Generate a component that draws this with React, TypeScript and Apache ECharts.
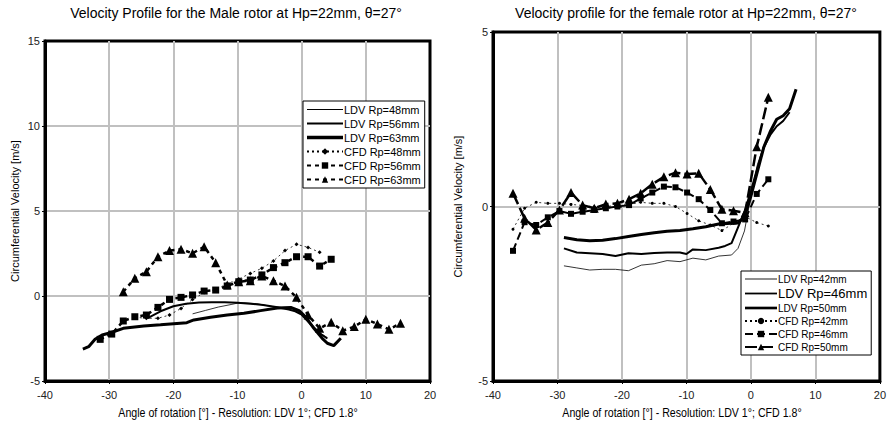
import React, { useEffect, useRef } from "react";
import * as echarts from "echarts";

// ---------- Male rotor (left chart) ----------
const maleLdv48X = [-17, -15, -13, -11, -10, -9, -7, -5, -3, -1, 0, 1, 2, 3, 4];
const maleLdv48Y = [-1.05, -0.85, -0.65, -0.5, -0.42, -0.4, -0.45, -0.6, -0.7, -0.85, -1.05, -1.45, -1.85, -2.2, -2.45];

const maleLdv56X = [-24, -22, -20, -18, -16, -14, -12, -10, -8, -6, -4, -2, -1, 0, 1, 2, 3, 4];
const maleLdv56Y = [-1.3, -0.9, -0.6, -0.45, -0.38, -0.37, -0.37, -0.4, -0.45, -0.53, -0.65, -0.8, -0.9, -1.1, -1.5, -1.9, -2.25, -2.5];

const maleLdv63X = [-34.1, -33.2, -32.2, -31.1, -29.8, -27.8, -24.6, -22.0, -17.9, -16.8, -14.2, -11.6, -9.0, -6.4, -3.8, -1.7, -0.4, 0.6, 1.9, 3.2, 4.0, 5.0, 6.1];
const maleLdv63Y = [-3.12, -2.98, -2.55, -2.29, -2.16, -1.9, -1.76, -1.69, -1.57, -1.41, -1.25, -1.12, -1.02, -0.86, -0.71, -0.67, -0.86, -1.22, -1.9, -2.49, -2.78, -2.92, -2.49];

const maleCfd48X = [-26.0, -24.2, -22.4, -20.6, -18.8, -17.0, -15.2, -13.4, -11.6, -9.8, -8.0, -6.2, -4.4, -2.6, -0.8, 1.0, 2.8];
const maleCfd48Y = [-1.25, -1.31, -1.31, -1.12, -0.73, -0.2, 0.2, 0.39, 0.71, 1.0, 1.33, 1.63, 2.06, 2.67, 3.04, 2.86, 2.57];

const maleCfd56X = [-31.4, -29.6, -27.8, -26.0, -24.2, -22.4, -20.6, -18.8, -17.0, -15.2, -13.4, -11.6, -9.8, -8.0, -6.2, -4.4, -2.6, -0.8, 1.0, 2.8, 4.6];
const maleCfd56Y = [-2.55, -2.24, -1.47, -1.22, -1.12, -0.67, -0.2, -0.08, 0.06, 0.29, 0.35, 0.59, 0.84, 0.94, 1.24, 1.67, 1.96, 2.31, 2.31, 1.76, 2.16];

const maleCfd63X = [-27.8, -26.0, -24.2, -22.4, -20.6, -18.8, -17.0, -15.2, -13.4, -11.6, -9.8, -8.0, -6.2, -4.4, -2.6, -0.8, 1.0, 2.8, 4.6, 6.4, 8.2, 10.0, 11.8, 13.6, 15.4];
const maleCfd63Y = [0.25, 1.04, 1.43, 2.31, 2.67, 2.75, 2.51, 2.9, 1.96, 0.65, 0.84, 0.9, 1.18, 0.9, 0.59, -0.08, -1.12, -1.9, -1.55, -2.04, -1.8, -1.37, -1.65, -1.96, -1.61];

// ---------- Female rotor (right chart) ----------
const femLdv42X = [-29, -27, -25, -23, -21, -19, -17, -15, -13, -11, -9, -7, -5, -3, -2, -1, 0, 1, 2, 3, 4, 5];
const femLdv42Y = [-1.7, -1.76, -1.82, -1.8, -1.8, -1.84, -1.68, -1.64, -1.55, -1.58, -1.48, -1.53, -1.42, -1.39, -1.2, -0.7, 0.3, 1.2, 1.75, 2.1, 2.3, 2.46];

const femLdv46X = [-29, -27, -25, -23, -21, -19, -17, -15, -13, -11, -10, -9, -7, -5, -4, -3, -2, -1, 0, 1, 2, 3, 4, 5, 6];
const femLdv46Y = [-1.2, -1.32, -1.34, -1.36, -1.42, -1.34, -1.36, -1.33, -1.32, -1.32, -1.36, -1.23, -1.25, -1.18, -1.13, -1.05, -0.6, -0.15, 0.45, 1.1, 1.7, 2.05, 2.3, 2.45, 2.7];

const femLdv50X = [-29, -27, -25, -23, -21, -19, -17, -15, -13, -11, -9, -7, -5, -3, -2, -1, 0, 1, 2, 3, 4, 5, 6, 7];
const femLdv50Y = [-0.89, -0.95, -0.98, -0.97, -0.92, -0.86, -0.8, -0.75, -0.71, -0.69, -0.64, -0.58, -0.5, -0.48, -0.47, -0.3, 0.3, 1.0, 1.7, 2.15, 2.5, 2.6, 2.8, 3.36];

const femCfdX = [-36.9, -35.1, -33.3, -31.5, -29.7, -27.9, -26.1, -24.3, -22.5, -20.7, -18.9, -17.1, -15.3, -13.5, -11.7, -9.9, -8.1, -6.3, -4.5, -2.7, -0.9, 0.9, 2.7];
const femCfd42Y = [-0.65, -0.05, 0.12, 0.09, 0.09, 0.06, 0.03, -0.01, 0.0, 0.03, 0.06, 0.12, 0.09, 0.09, 0.0, -0.2, -0.41, -0.53, -0.69, -0.48, -0.29, -0.46, -0.56];
const femCfd46Y = [-1.27, -0.45, -0.53, -0.31, -0.13, -0.21, -0.15, -0.1, -0.05, 0.0, 0.04, 0.23, 0.4, 0.57, 0.55, 0.4, 0.21, -0.1, -0.48, -0.43, -0.37, 0.36, 0.78];
const femCfd50Y = [0.38, -0.34, -0.67, -0.46, -0.1, 0.4, 0.04, -0.05, 0.07, 0.09, 0.21, 0.38, 0.64, 0.85, 0.97, 0.93, 0.95, 0.49, -0.08, -0.12, -0.18, 1.71, 3.13];

// ---------- Axes ----------
const xTicksMin = -40;
const xTicksMax = 20;
const xTickStep = 10;
const maleYMin = -5;
const maleYMax = 15;
const femYMin = -5;
const femYMax = 5;
const yTickStep = 5;

const maleTitle = "Velocity Profile for the Male rotor at Hp=22mm, \u03b8=27\u00b0";
const femTitle = "Velocity profile for the female rotor at Hp=22mm, \u03b8=27\u00b0";
const xName = "Angle of rotation [\u00b0] - Resolution: LDV 1\u00b0; CFD 1.8\u00b0";
const yName = "Circumferential Velocity [m/s]";

const maleNames = ["LDV Rp=48mm", "LDV Rp=56mm", "LDV Rp=63mm", "CFD Rp=48mm", "CFD Rp=56mm", "CFD Rp=63mm"];
const femNames = ["LDV Rp=42mm", "LDV Rp=46mm", "LDV Rp=50mm", "CFD Rp=42mm", "CFD Rp=46mm", "CFD Rp=50mm"];

const FONT = "'Liberation Sans', Arial, sans-serif";

function zip(xs: number[], ys: number[]) {
  return xs.map((x, i) => [x, ys[i]]);
}

function makeAxes(gridIndex: number, ymin: number, ymax: number) {
  const common = {
    gridIndex,
    type: "value" as const,
    axisLine: { show: true, onZero: false, lineStyle: { color: "#000", width: 3 } },
    axisTick: { show: true, length: 3, lineStyle: { color: "#000", width: 1 } },
    axisLabel: { color: "#222", fontSize: 11, fontFamily: FONT },
    splitLine: { show: true, showMinLine: false, showMaxLine: false, lineStyle: { color: "#c0c0c0", width: 2 } },
    nameLocation: "middle" as const,
  };
  const x = {
    ...common,
    min: xTicksMin,
    max: xTicksMax,
    interval: xTickStep,
    axisLabel: { ...common.axisLabel, margin: 8 },
  };
  const y = {
    ...common,
    min: ymin,
    max: ymax,
    interval: yTickStep,
    name: yName,
    nameGap: gridIndex === 0 ? 25 : 30,
    nameTextStyle: { color: "#000", fontSize: 11, fontFamily: FONT },
    axisLabel: { ...common.axisLabel, margin: 5 },
  };
  return { x, y };
}

// thin horizontal bar icons of different thickness for the LDV lines
const ldvIcon = (w: number) => `path://M0,0L36,0L36,${w}L0,${w}Z`;
const maleLdvIcons = [ldvIcon(1), ldvIcon(2), ldvIcon(3.5)];
const femLdvIcons = [ldvIcon(1), ldvIcon(2), ldvIcon(3)];

function legendItems(names: string[], icons: string[]) {
  return names.map((n, i) => (i < 3 ? { name: n, icon: icons[i] } : { name: n }));
}

export default function App() {
  const ref = useRef<HTMLDivElement>(null);
  useEffect(() => {
    if (!ref.current) return;
    const chart = echarts.init(ref.current, undefined, { renderer: "svg" });
    const a0 = makeAxes(0, maleYMin, maleYMax);
    const a1 = makeAxes(1, femYMin, femYMax);

    const ser = (name: string, xi: number, data: number[][], opts: any) => ({
      name,
      type: "line",
      xAxisIndex: xi,
      yAxisIndex: xi,
      data,
      symbol: "none",
      color: "#000",
      itemStyle: { color: "#000" },
      ...opts,
    });

    const xNameStyle = { align: "center", verticalAlign: "middle", fontSize: 12.5, fontFamily: FONT, fill: "#000" };

    const option: any = {
      animation: false,
      backgroundColor: "#fff",
      textStyle: { fontFamily: FONT },
      graphic: [
        { type: "text", x: 236, y: 13, style: { text: maleTitle, align: "center", verticalAlign: "middle", fontSize: 14, fontFamily: FONT, fill: "#000" } },
        { type: "text", x: 686, y: 13, style: { text: femTitle, align: "center", verticalAlign: "middle", fontSize: 14, fontFamily: FONT, fill: "#000" } },
        { type: "text", x: 238, y: 412, scaleX: 0.85, style: { text: xName, ...xNameStyle } },
        { type: "text", x: 682, y: 412, scaleX: 0.85, style: { text: xName, ...xNameStyle } },
      ],
      grid: [
        { left: 45, top: 41, width: 385, height: 340, show: true, borderColor: "#000", borderWidth: 3, backgroundColor: "#fff" },
        { left: 493, top: 32, width: 388, height: 349, show: true, borderColor: "#000", borderWidth: 3, backgroundColor: "#fff" },
      ],
      xAxis: [a0.x, a1.x],
      yAxis: [a0.y, a1.y],
      legend: [
        {
          data: legendItems(maleNames, maleLdvIcons),
          orient: "vertical",
          left: 303,
          top: 101,
          itemWidth: 36,
          itemHeight: 8,
          itemGap: 3,
          padding: [3, 4, 3, 3],
          backgroundColor: "#fff",
          borderColor: "#000",
          borderWidth: 1,
          borderRadius: 0,
          selectedMode: false,
          textStyle: { color: "#000", fontSize: 11, fontFamily: FONT, padding: [0, 0, 0, -4] },
          z: 10,
        },
        {
          data: legendItems(femNames, femLdvIcons),
          orient: "vertical",
          left: 741,
          top: 271,
          itemWidth: 32,
          itemHeight: 8,
          itemGap: 3,
          padding: [3, 4, 3, 3],
          backgroundColor: "#fff",
          borderColor: "#000",
          borderWidth: 1,
          borderRadius: 0,
          selectedMode: false,
          formatter: (n: string) => (n === "LDV Rp=46mm" ? "{big|" + n + "}" : n),
          textStyle: {
            color: "#000",
            fontSize: 10,
            fontFamily: FONT,
            padding: [0, 0, 0, -4],
            rich: { big: { fontSize: 13, fontFamily: FONT, color: "#000" } },
          },
          z: 10,
        },
      ],
      series: [
        ser(maleNames[0], 0, zip(maleLdv48X, maleLdv48Y), { lineStyle: { color: "#000", width: 0.8 } }),
        ser(maleNames[1], 0, zip(maleLdv56X, maleLdv56Y), { lineStyle: { color: "#000", width: 2 } }),
        ser(maleNames[2], 0, zip(maleLdv63X, maleLdv63Y), { lineStyle: { color: "#000", width: 3 } }),
        ser(maleNames[3], 0, zip(maleCfd48X, maleCfd48Y), { symbol: "diamond", symbolSize: 4, lineStyle: { color: "#000", width: 0.8, type: [2, 3] } }),
        ser(maleNames[4], 0, zip(maleCfd56X, maleCfd56Y), { symbol: "rect", symbolSize: 7, lineStyle: { color: "#000", width: 2.5, type: [4, 4] } }),
        ser(maleNames[5], 0, zip(maleCfd63X, maleCfd63Y), { symbol: "triangle", symbolSize: 9, lineStyle: { color: "#000", width: 2.5, type: [4, 4] } }),

        ser(femNames[0], 1, zip(femLdv42X, femLdv42Y), { lineStyle: { color: "#000", width: 0.8 } }),
        ser(femNames[1], 1, zip(femLdv46X, femLdv46Y), { lineStyle: { color: "#000", width: 2 } }),
        ser(femNames[2], 1, zip(femLdv50X, femLdv50Y), { lineStyle: { color: "#000", width: 3 } }),
        ser(femNames[3], 1, zip(femCfdX, femCfd42Y), { symbol: "circle", symbolSize: 3, lineStyle: { color: "#000", width: 0.8, type: [2, 3] } }),
        ser(femNames[4], 1, zip(femCfdX, femCfd46Y), { symbol: "rect", symbolSize: 6, lineStyle: { color: "#000", width: 2, type: [8, 4] } }),
        ser(femNames[5], 1, zip(femCfdX, femCfd50Y), { symbol: "triangle", symbolSize: 9, lineStyle: { color: "#000", width: 2.5, type: [12, 4] } }),
      ],
    };
    chart.setOption(option);
    return () => chart.dispose();
  }, []);
  return <div ref={ref} style={{ position: "absolute", left: 0, top: 0, width: 889, height: 425 }} />;
}
